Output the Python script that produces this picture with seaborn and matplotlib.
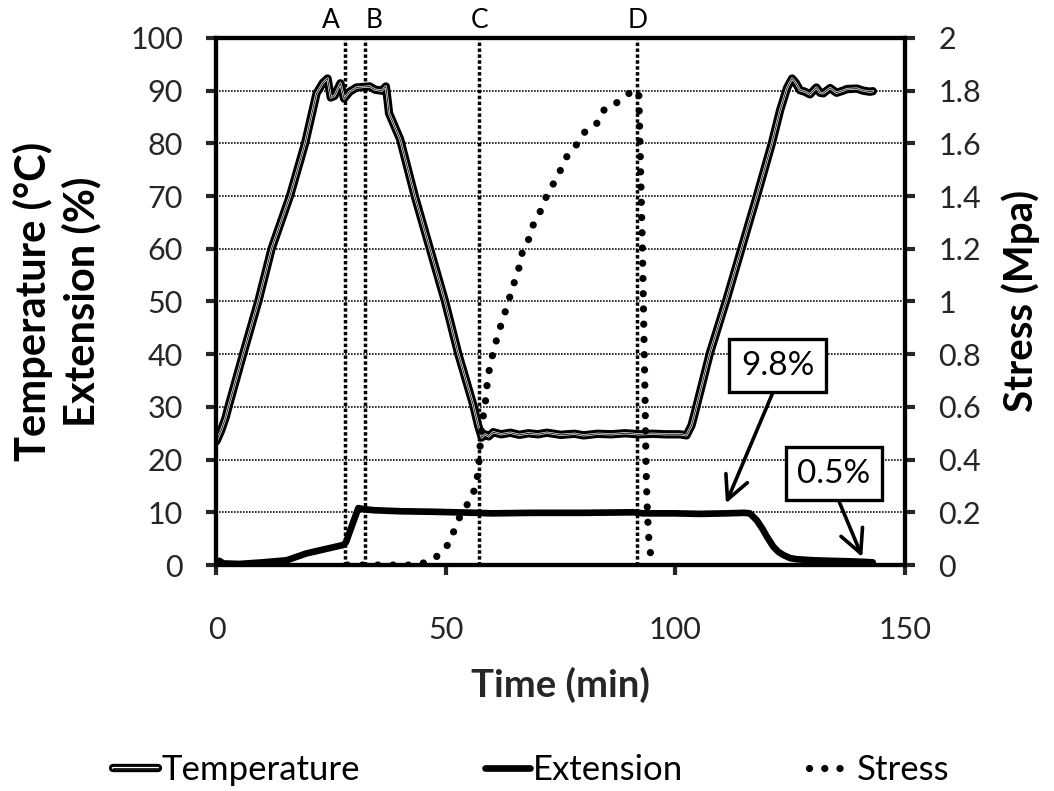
import matplotlib
matplotlib.use("Agg")
import matplotlib.pyplot as plt
import matplotlib.patheffects as pe
import matplotlib.transforms as mtransforms
import seaborn as sns

# ---- data -------------------------------------------------------------
temp_time = [0, 1.0, 2.0, 2.6, 5.8, 9.1, 12.0, 16.0, 19.3, 21.8, 23.2, 24.2,
             24.9, 25.7, 27.0, 27.8, 29.0, 30.5, 33.4, 34.5, 36.0, 36.9, 37.3,
             37.6, 40.0, 43.2, 46.5, 49.8, 52.7, 55.9, 57.0, 57.8, 58.5, 59.3,
             60.3, 62, 64, 66, 68, 70, 72, 75, 78, 80, 83, 86, 89, 92, 95, 98,
             101, 102.4, 103.5, 104.2, 107.5, 111.1, 114.4, 117.7, 121.0, 122.8,
             124.3, 125.4, 126.2, 127.1, 128.2, 129.3, 130.7, 131.5, 132.2,
             133.7, 135.1, 136.5, 137.3, 139.5, 140.9, 142.4, 143.0]
temp_vals = [23.5, 25.5, 28.0, 30.0, 40.0, 50.0, 60.0, 70.0, 80.0, 89.5, 91.5,
             92.3, 88.7, 89.0, 91.4, 88.5, 89.8, 90.6, 90.8, 90.2, 90.0, 90.8,
             88.0, 85.7, 80.8, 70.0, 60.0, 50.0, 40.0, 30.5, 26.5, 24.2, 24.8,
             24.4, 25.2, 24.8, 25.1, 24.7, 25.0, 24.8, 25.1, 24.7, 24.9, 24.6,
             24.9, 24.8, 25.0, 24.8, 24.9, 24.8, 24.8, 24.6, 26.5, 28.8, 40.2,
             50.3, 60.1, 69.9, 80.0, 86.3, 90.5, 92.3, 91.5, 90.1, 89.8, 89.3,
             90.6, 89.6, 89.5, 90.5, 89.6, 90.0, 90.3, 90.4, 90.0, 89.8, 89.9]

ext_time = [0, 0.6, 1.5, 5, 10, 15.3, 19.6, 27.6, 28.2, 30.9, 32, 34.2, 40,
            47.2, 56.7, 60, 69, 80, 90.8, 93, 100, 105.3, 111, 115, 116.2,
            117.7, 119, 119.9, 121.3, 122.4, 123.5, 125, 126.4, 130, 133.7,
            138, 141, 143]
ext_vals = [0.6, 0.8, 0.3, 0.2, 0.5, 0.9, 2.2, 3.8, 4.3, 10.8, 10.6, 10.4, 10.2,
            10.1, 9.9, 9.8, 9.9, 9.9, 10.0, 9.8, 9.8, 9.7, 9.8, 9.9, 9.8, 8.5,
            6.8, 5.4, 3.5, 2.5, 1.9, 1.3, 1.1, 0.9, 0.8, 0.7, 0.6, 0.5]

stress_time = [28.5, 33, 38, 43, 46.2, 48.8, 50.9, 52.1, 53.6, 55.5, 56.5,
               57.1, 57.3, 57.6, 57.9, 58.5, 58.8, 59.2, 59.9, 60.7, 61.6,
               62.7, 63.7, 64.7, 65.8, 66.5, 67.9, 69.0, 70.5, 71.9, 73.5,
               75.0, 76.5, 78.7, 80.5, 83.2, 84.6, 87.4, 89.9, 92.0, 92.4,
               92.8, 93.1, 93.4, 93.6, 93.8, 94.1, 94.4, 94.9]
stress_vals = [0, 0, 0, 0, 0.012, 0.042, 0.088, 0.148, 0.205, 0.25, 0.303,
               0.363, 0.427, 0.48, 0.544, 0.60, 0.66, 0.72, 0.78, 0.835, 0.89,
               0.95, 1.006, 1.063, 1.12, 1.18, 1.23, 1.29, 1.34, 1.40, 1.45,
               1.50, 1.556, 1.60, 1.65, 1.68, 1.733, 1.756, 1.79, 1.80, 1.5,
               1.2, 0.9, 0.6, 0.36, 0.24, 0.12, 0.065, 0.0]

event_times = [28.0, 32.4, 57.3, 91.7]
event_labels = ["A", "B", "C", "D"]
event_label_shift = [-14, 9, 0, 0]

x_ticks = [0, 50, 100, 150]
left_ticks = [0, 10, 20, 30, 40, 50, 60, 70, 80, 90, 100]
right_ticks = [0, 0.2, 0.4, 0.6, 0.8, 1.0, 1.2, 1.4, 1.6, 1.8, 2.0]
right_tick_labels = ["0", "0.2", "0.4", "0.6", "0.8", "1", "1.2", "1.4",
                     "1.6", "1.8", "2"]

callouts = [("9.8%", (111.0, 11.7), (122.3, 37.8)),
            ("0.5%", (140.7, 1.5), (134.5, 17.3))]

# ---- style ------------------------------------------------------------
sns.set_theme(style="white")
plt.rcParams["font.family"] = ["Lato", "DejaVu Sans"]
plt.rcParams["axes.edgecolor"] = "black"
plt.rcParams["text.color"] = "black"

fig = plt.figure(figsize=(10.54, 7.91), dpi=100)
ax = fig.add_axes([0.2054, 0.2857, 0.6532, 0.6663])
ax2 = ax.twinx()

# horizontal grid
for y in left_ticks[1:-1]:
    ax.axhline(y, color="#111111", lw=1.2, ls=(0, (1, 0.8)), zorder=0.5)

# event markers
for t in event_times:
    ax.axvline(t, color="black", lw=2.5, ls=(0, (1, 0.7)),
               dash_capstyle="butt", zorder=1)
blend = mtransforms.blended_transform_factory(ax.transData, ax.transAxes)
for t, lab, dx in zip(event_times, event_labels, event_label_shift):
    ax.annotate(lab, xy=(t, 1.0), xycoords=blend, xytext=(dx, 17),
                textcoords="offset pixels", ha="center", va="center",
                fontsize=19, annotation_clip=False)

# temperature: black outer stroke with a thin light seam in the middle
temp_effects = [pe.Stroke(linewidth=6.0, foreground="black"),
                pe.Stroke(linewidth=1.6, foreground="white"),
                pe.Normal()]
sns.lineplot(x=temp_time, y=temp_vals, ax=ax, color="#222222", lw=0.7,
             estimator=None, sort=False, legend=False,
             solid_joinstyle="round", zorder=3, path_effects=temp_effects)
temp_line = ax.lines[-1]

# extension: heavy solid
sns.lineplot(x=ext_time, y=ext_vals, ax=ax, color="black", lw=4.8,
             estimator=None, sort=False, legend=False,
             solid_joinstyle="round", solid_capstyle="round", zorder=4)
ext_line = ax.lines[-1]

# stress: round dots on the secondary axis
sns.lineplot(x=stress_time, y=stress_vals, ax=ax2, color="black", lw=5.2,
             estimator=None, sort=False, legend=False, zorder=5)
stress_line = ax2.lines[-1]
stress_line.set_linestyle((0, (0.01, 2.1)))
stress_line.set_dash_capstyle("round")

# axes, ticks, spines
ax.set_xlim(0, 150)
ax.set_ylim(0, 100)
ax2.set_ylim(0, 2)
ax.set_xticks(x_ticks)
ax.set_yticks(left_ticks)
ax2.set_yticks(right_ticks)
ax2.set_yticklabels(right_tick_labels)
ax.set_ylabel("")

for a in (ax, ax2):
    for s in a.spines.values():
        s.set_linewidth(3.0)
        s.set_color("black")
ax.tick_params(axis="x", direction="out", length=7, width=3, pad=30,
               labelsize=22, bottom=True)
ax.tick_params(axis="y", direction="out", length=7, width=3, pad=17,
               labelsize=22, left=True)
ax2.tick_params(axis="y", direction="out", length=7, width=3, pad=17,
                labelsize=22, right=True)

ax.set_xlabel("Time (min)", fontsize=27.5, fontweight="bold", labelpad=16)
fig.text(0.054, 0.619, "Temperature (°C)\nExtension (%)", rotation=90,
         ha="center", va="center", fontsize=30, fontweight="bold",
         linespacing=1.25, multialignment="center")
fig.text(0.968, 0.619, "Stress (Mpa)", rotation=90, ha="center",
         va="center", fontsize=29, fontweight="bold")

# value callouts
for text, tip, pos in callouts:
    ax.annotate(text, xy=tip, xytext=pos, textcoords="data",
                ha="center", va="center", fontsize=24, zorder=6,
                bbox=dict(boxstyle="square,pad=0.35", fc="white",
                          ec="black", lw=2.4),
                arrowprops=dict(arrowstyle="->,head_length=0.7,head_width=0.35",
                                color="black", lw=2.6, relpos=(0.5, 0.0),
                                shrinkA=0, shrinkB=0))

# legend along the bottom edge
fig.legend([temp_line, ext_line, stress_line],
           ["Temperature", "Extension", "Stress"],
           loc="center", bbox_to_anchor=(0.504, 0.026), ncol=3,
           frameon=False, fontsize=25, handlelength=1.3,
           handletextpad=0.1, columnspacing=3.6)

fig.savefig("out.png", dpi=100)
